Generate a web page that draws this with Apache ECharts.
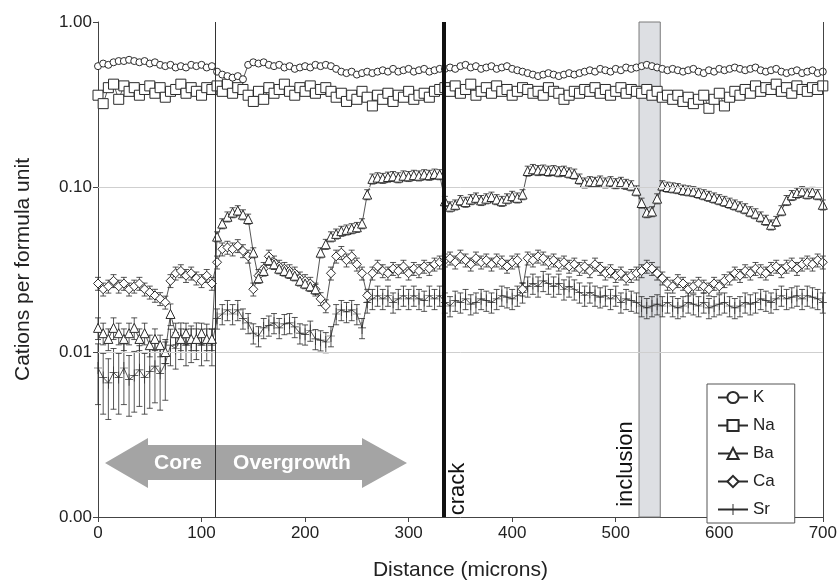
<!DOCTYPE html>
<html>
<head>
<meta charset="utf-8">
<script src="https://cdn.jsdelivr.net/npm/echarts@6/dist/echarts.min.js"></script>
<style>
html,body{margin:0;padding:0;background:#fff;}
#chart{width:840px;height:586px;}
</style>
</head>
<body>
<div id="chart"></div>
<script>
// Distance (microns)
const distance = [0,5,10,15,20,25,30,35,40,45,50,55,60,65,70,75,80,85,90,95,100,105,110,
115,120,125,130,135,140,145,
150,155,160,165,170,175,180,185,190,195,200,205,210,215,
220,225,230,235,240,245,250,255,260,265,270,275,280,285,290,295,300,305,310,315,320,325,330,
335,340,345,350,355,360,365,370,375,380,385,390,395,400,405,410,
415,420,425,430,435,440,445,450,455,460,
465,470,475,480,485,490,495,500,505,510,515,520,
525,530,535,540,
545,550,555,560,565,570,575,580,585,590,595,600,605,610,615,620,625,630,635,640,645,650,655,660,665,670,675,680,685,690,695,700];

const K = [0.54,0.56,0.55,0.57,0.58,0.58,0.59,0.58,0.57,0.58,0.56,0.57,0.55,0.54,0.55,0.53,0.54,0.53,0.55,0.54,0.55,0.53,0.54,
0.50,0.48,0.47,0.46,0.47,0.45,0.55,
0.57,0.56,0.57,0.55,0.54,0.55,0.53,0.54,0.52,0.53,0.54,0.53,0.55,0.54,
0.55,0.54,0.52,0.50,0.49,0.50,0.48,0.49,0.50,0.49,0.50,0.51,0.50,0.52,0.50,0.51,0.52,0.50,0.51,0.52,0.50,0.51,0.52,
0.52,0.53,0.52,0.54,0.55,0.53,0.54,0.52,0.53,0.54,0.52,0.53,0.54,0.52,0.51,0.50,
0.49,0.48,0.47,0.48,0.49,0.48,0.47,0.48,0.49,0.48,
0.49,0.50,0.51,0.50,0.52,0.51,0.50,0.52,0.51,0.53,0.52,0.53,
0.54,0.55,0.54,0.53,
0.52,0.51,0.52,0.51,0.50,0.51,0.52,0.50,0.49,0.51,0.50,0.52,0.51,0.52,0.53,0.52,0.51,0.52,0.53,0.51,0.50,0.51,0.52,0.50,0.49,0.50,0.51,0.49,0.50,0.51,0.49,0.50];

const Na = [0.36,0.32,0.40,0.42,0.34,0.41,0.38,0.40,0.36,0.39,0.41,0.37,0.40,0.35,0.38,0.39,0.42,0.37,0.40,0.38,0.36,0.40,0.39,
0.41,0.38,0.42,0.37,0.40,0.39,0.36,
0.33,0.38,0.34,0.40,0.37,0.39,0.42,0.38,0.36,0.40,0.38,0.41,0.37,0.39,
0.40,0.38,0.35,0.37,0.33,0.36,0.34,0.38,0.35,0.31,0.36,0.34,0.37,0.33,0.36,0.35,0.38,0.34,0.36,0.37,0.35,0.38,0.39,
0.40,0.38,0.41,0.37,0.39,0.42,0.36,0.38,0.40,0.37,0.41,0.38,0.39,0.36,0.38,0.40,
0.39,0.37,0.38,0.36,0.40,0.38,0.37,0.34,0.36,0.38,
0.37,0.39,0.38,0.40,0.37,0.39,0.36,0.38,0.40,0.37,0.39,0.38,
0.37,0.39,0.36,0.38,
0.35,0.36,0.34,0.36,0.33,0.35,0.32,0.34,0.36,0.30,0.34,0.37,0.31,0.35,0.38,0.36,0.39,0.37,0.41,0.38,0.40,0.39,0.42,0.38,0.40,0.37,0.41,0.39,0.38,0.40,0.39,0.41];

const Ba = [0.014,0.013,0.012,0.014,0.013,0.012,0.013,0.014,0.012,0.013,0.011,0.012,0.011,0.010,0.017,0.013,0.012,0.013,0.012,0.012,0.013,0.012,0.012,
0.050,0.060,0.066,0.070,0.072,0.068,0.064,
0.040,0.028,0.031,0.036,0.034,0.032,0.031,0.030,0.029,0.027,0.026,0.025,0.024,0.040,
0.045,0.050,0.052,0.054,0.055,0.056,0.057,0.060,0.090,0.112,0.114,0.113,0.115,0.116,0.114,0.117,0.116,0.118,0.117,0.119,0.118,0.120,0.119,
0.082,0.076,0.078,0.083,0.081,0.084,0.086,0.083,0.085,0.087,0.084,0.082,0.085,0.088,0.086,0.090,
0.125,0.128,0.126,0.127,0.125,0.126,0.124,0.125,0.122,0.120,
0.112,0.106,0.108,0.107,0.109,0.106,0.108,0.105,0.107,0.104,0.102,0.095,
0.080,0.070,0.071,0.085,
0.102,0.100,0.099,0.098,0.096,0.095,0.094,0.092,0.090,0.088,0.086,0.084,0.082,0.080,0.078,0.076,0.074,0.071,0.069,0.066,0.063,0.059,0.062,0.072,0.083,0.089,0.092,0.094,0.091,0.093,0.090,0.078];

const Ca = [0.026,0.024,0.025,0.027,0.025,0.026,0.024,0.025,0.026,0.024,0.023,0.022,0.021,0.020,0.027,0.030,0.031,0.029,0.030,0.028,0.027,0.029,0.026,
0.035,0.042,0.043,0.042,0.044,0.041,0.038,
0.024,0.029,0.032,0.038,0.035,0.033,0.032,0.031,0.030,0.028,0.027,0.026,0.024,0.021,
0.019,0.030,0.038,0.040,0.036,0.038,0.034,0.030,0.022,0.030,0.033,0.031,0.030,0.032,0.031,0.033,0.030,0.032,0.031,0.033,0.032,0.034,0.035,
0.036,0.037,0.035,0.038,0.036,0.034,0.037,0.035,0.036,0.034,0.036,0.035,0.033,0.035,0.036,0.024,
0.037,0.036,0.038,0.037,0.035,0.036,0.034,0.035,0.033,0.034,
0.032,0.033,0.031,0.034,0.032,0.030,0.031,0.029,0.030,0.028,0.029,0.030,
0.031,0.033,0.032,0.030,
0.028,0.026,0.025,0.027,0.026,0.024,0.025,0.026,0.025,0.024,0.026,0.025,0.027,0.028,0.030,0.029,0.031,0.030,0.032,0.031,0.030,0.032,0.033,0.031,0.033,0.034,0.032,0.034,0.035,0.034,0.036,0.035];

const Sr = [0.008,0.007,0.0065,0.0075,0.007,0.008,0.0068,0.0072,0.0078,0.0070,0.0076,0.0082,0.0074,0.0085,0.011,0.0105,0.012,0.011,0.0115,0.012,0.011,0.0118,0.011,
0.016,0.017,0.018,0.017,0.018,0.016,0.015,
0.013,0.0125,0.014,0.0145,0.015,0.014,0.0148,0.015,0.0142,0.013,0.0128,0.0135,0.012,0.0118,
0.0115,0.0125,0.017,0.018,0.0175,0.018,0.017,0.014,0.020,0.021,0.022,0.021,0.022,0.020,0.021,0.022,0.021,0.022,0.021,0.0205,0.022,0.021,0.022,
0.020,0.019,0.0205,0.020,0.021,0.0195,0.020,0.021,0.0205,0.020,0.021,0.022,0.0215,0.021,0.022,0.023,
0.025,0.026,0.025,0.027,0.026,0.025,0.026,0.024,0.025,0.024,
0.023,0.022,0.023,0.022,0.0215,0.022,0.021,0.022,0.020,0.021,0.0205,0.020,
0.019,0.0185,0.019,0.0195,
0.019,0.020,0.019,0.0185,0.019,0.020,0.0195,0.019,0.020,0.0185,0.019,0.0195,0.020,0.019,0.0185,0.019,0.020,0.0195,0.020,0.021,0.0205,0.020,0.021,0.022,0.021,0.0215,0.022,0.021,0.022,0.0215,0.021,0.020];

// relative error-bar half widths by distance range [from, to, relErr]
const baErr = [[0,110,0.15],[115,700,0.07]];
const caErr = [[0,700,0.09]];
const srErr = [[0,65,0.40],[70,110,0.25],[115,700,0.14]];

const gridValues = [0.1, 0.01];          // horizontal grid lines
const boundaryCore = 113.5;   // core / overgrowth boundary
const crackAt = 334;
const inclusionFrom = 522.5, inclusionTo = 543;

function pairs(vals){ return distance.map((d,i)=>[d, vals[i]]); }
function errTriples(vals, segs){
  return distance.map((d,i)=>{
    let e = 0;
    segs.forEach(s=>{ if(d>=s[0] && d<=s[1]) e = s[2]; });
    return [d, vals[i], e];
  });
}

const ink = '#2b2b2b';
function errSeries(vals, segs){
  return {
    type:'custom', silent:true, z:1,
    data: errTriples(vals, segs),
    encode:{x:0,y:1},
    renderItem:function(params, api){
      const x = api.value(0), v = api.value(1), e = api.value(2);
      const lo = api.coord([x, v*(1-e)]);
      const hi = api.coord([x, v*(1+e)]);
      const w = 3;
      return {type:'group', children:[
        {type:'line', shape:{x1:lo[0],y1:lo[1],x2:hi[0],y2:hi[1]}, style:{stroke:ink,lineWidth:0.8}},
        {type:'line', shape:{x1:lo[0]-w,y1:lo[1],x2:lo[0]+w,y2:lo[1]}, style:{stroke:ink,lineWidth:0.8}},
        {type:'line', shape:{x1:hi[0]-w,y1:hi[1],x2:hi[0]+w,y2:hi[1]}, style:{stroke:ink,lineWidth:0.8}}
      ]};
    }
  };
}

function lineSeries(name, vals, symbol, size, fill, border){
  return {
    name, type:'line', data: pairs(vals), symbol, symbolSize:size, showAllSymbol:true,
    z:3,
    lineStyle:{color:ink, width:0.8},
    itemStyle:{color: fill || '#fff', borderColor:ink, borderWidth: border===undefined ? 1 : border},
    emphasis:{disabled:true}
  };
}

const plusPath = 'path://M-0.35,-6 L0.35,-6 L0.35,-0.35 L4,-0.35 L4,0.35 L0.35,0.35 L0.35,6 L-0.35,6 L-0.35,0.35 L-4,0.35 L-4,-0.35 L-0.35,-0.35 Z';

const chart = echarts.init(document.getElementById('chart'), null, {renderer:'canvas'});
const option = {
  animation:false,
  backgroundColor:'#fff',
  textStyle:{fontFamily:'Liberation Sans, Arial, sans-serif'},
  grid:{left:98, right:17, top:22, bottom:65, containLabel:false},
  legend:{
    orient:'vertical', left:707, top:384,
    data:['K','Na','Ba','Ca','Sr'],
    itemWidth:30, itemHeight:14, itemGap:11,
    padding:[5,20,5,10],
    borderColor:'#555', borderWidth:1, backgroundColor:'#fff',
    textStyle:{fontSize:17, color:'#222'},
    selectedMode:false
  },
  xAxis:{
    type:'value', min:0, max:700, interval:100,
    name:'Distance (microns)', nameLocation:'middle', nameGap:43,
    nameTextStyle:{fontSize:21, color:'#222'},
    axisLine:{lineStyle:{color:'#444', width:1}},
    axisTick:{length:5, lineStyle:{color:'#444'}},
    axisLabel:{fontSize:17, color:'#222', margin:8},
    splitLine:{show:false}
  },
  yAxis:{
    type:'log', logBase:10, min:0.001, max:1,
    name:'Cations per formula unit', nameLocation:'middle', nameGap:64,
    nameTextStyle:{fontSize:21, color:'#222'},
    axisLine:{show:true, lineStyle:{color:'#444', width:1}},
    axisTick:{show:true, length:5, lineStyle:{color:'#444'}},
    axisLabel:{fontSize:17, color:'#222', margin:6, formatter:v=>Number(v).toFixed(2)},
    splitLine:{show:false},
    minorTick:{show:false}
  },
  graphic:[
    {type:'polygon', z:0, silent:true,
      shape:{points:[[105,463],[148,438],[148,445],[362,445],[362,438],[407,463],[362,488],[362,480],[148,480],[148,488]]},
      style:{fill:'#a4a4a4'}},
    {type:'text', z:50, x:178, y:463, silent:true,
      style:{text:'Core', fill:'#fff', font:'bold 21px Liberation Sans, Arial, sans-serif', textAlign:'center', textVerticalAlign:'middle'}},
    {type:'text', z:50, x:292, y:463, silent:true,
      style:{text:'Overgrowth', fill:'#fff', font:'bold 21px Liberation Sans, Arial, sans-serif', textAlign:'center', textVerticalAlign:'middle'}},
    {type:'text', z:50, x:458, y:489, rotation:Math.PI/2, silent:true,
      style:{text:'crack', fill:'#111', font:'22px Liberation Sans, Arial, sans-serif', textAlign:'center', textVerticalAlign:'middle'}},
    {type:'text', z:50, x:626, y:464, rotation:Math.PI/2, silent:true,
      style:{text:'inclusion', fill:'#111', font:'22px Liberation Sans, Arial, sans-serif', textAlign:'center', textVerticalAlign:'middle'}}
  ],
  series:[
    {
      type:'line', data:[], z:0, silent:true,
      markLine:{silent:true, symbol:['none','none'], label:{show:false},
        data: gridValues.map(v=>({yAxis:v, lineStyle:{color:'#cfcfcf', width:1, type:'solid'}}))}
    },
    errSeries(Sr, srErr),
    errSeries(Ca, caErr),
    errSeries(Ba, baErr),
    lineSeries('Sr', Sr, plusPath, [8,12], ink, 0),
    lineSeries('Ca', Ca, 'diamond', 9),
    lineSeries('Ba', Ba, 'triangle', 9),
    lineSeries('Na', Na, 'rect', 10),
    lineSeries('K', K, 'circle', 7),
    {
      type:'line', data:[], z:10, silent:true,
      markArea:{silent:true, itemStyle:{color:'rgba(208,210,216,0.72)', borderColor:'#7a7a7a', borderWidth:1},
        data:[[{xAxis:inclusionFrom},{xAxis:inclusionTo}]]},
      markLine:{silent:true, symbol:['none','none'], label:{show:false},
        data:[
          {xAxis:boundaryCore, lineStyle:{color:'#333', width:1, type:'solid'}},
          {xAxis:crackAt, lineStyle:{color:'#111', width:4, type:'solid'}},
          {xAxis:700, lineStyle:{color:'#444', width:1, type:'solid'}}
        ]}
    }
  ]
};
chart.setOption(option);
</script>
</body>
</html>
